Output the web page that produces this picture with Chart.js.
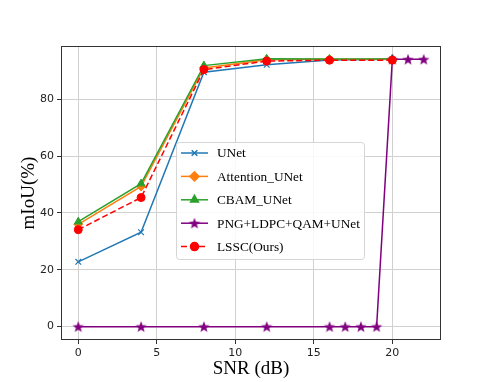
<!DOCTYPE html>
<html>
<head>
<meta charset="utf-8">
<script src="https://cdn.jsdelivr.net/npm/chart.js@4.4.1/dist/chart.umd.min.js"></script>
<style>
  body { margin: 0; background: #fff; }
  #wrap { width: 491px; height: 382px; }
</style>
</head>
<body>
<div id="wrap"><canvas id="snrChart" width="491" height="382"></canvas></div>
<script>
// SNR values (dB)
const snr = [0, 4, 8, 12, 16, 20];
const snrPng = [0, 4, 8, 12, 16, 17, 18, 19, 20, 21, 22];

// mIoU (%) per model
const unet = [22.8, 33.2, 89.5, 92.1, 93.8, 94.0];
const attentionUnet = [36.0, 49.3, 91.0, 93.9, 94.0, 94.0];
const cbamUnet = [36.9, 50.3, 91.8, 94.2, 94.1, 94.1];
const pngLdpc = [0, 0, 0, 0, 0, 0, 0, 0, 94.0, 94.0, 94.0];
const lssc = [34.1, 45.4, 90.4, 93.4, 93.7, 93.7];

const xTicks = [0, 5, 10, 15, 20];
const yTicks = [0, 20, 40, 60, 80];

const pairs = (xs, ys) => xs.map((x, i) => ({ x: x, y: ys[i] }));

// filled 5-point star for the purple series
function makeStar(color, r) {
    const c = document.createElement('canvas');
    c.width = c.height = r * 2 + 2;
    const g = c.getContext('2d');
    g.fillStyle = color;
    g.beginPath();
    for (let i = 0; i < 10; i++) {
        const rad = i % 2 === 0 ? r : r * 0.42;
        const a = -Math.PI / 2 + i * Math.PI / 5;
        const px = r + 1 + rad * Math.cos(a);
        const py = r + 1.5 + rad * Math.sin(a);
        if (i === 0) g.moveTo(px, py); else g.lineTo(px, py);
    }
    g.closePath();
    g.fill();
    return c;
}
const star = makeStar('#800080', 6);

const serif = "'Liberation Serif', 'Times New Roman', serif";

// frame, axis titles and legend box (matplotlib look)
const decorPlugin = {
    id: 'decor',
    afterDatasetsDraw(chart) {
        const { ctx, chartArea: a } = chart;
        ctx.save();
        ctx.strokeStyle = '#333';
        ctx.lineWidth = 1;
        ctx.strokeRect(a.left + 0.5, a.top + 0.5, a.right - a.left - 1, a.bottom - a.top - 1);

        ctx.fillStyle = '#000';
        ctx.font = '19px ' + serif;
        ctx.textAlign = 'center';
        ctx.textBaseline = 'middle';
        ctx.fillText('SNR (dB)', (a.left + a.right) / 2, 369);
        ctx.translate(29, (a.top + a.bottom) / 2);
        ctx.rotate(-Math.PI / 2);
        ctx.fillText('mIoU(%)', 0, 0);
        ctx.restore();

        // legend
        ctx.save();
        const bx = 176, by = 142, bw = 188, bh = 117;
        ctx.fillStyle = 'rgba(255,255,255,0.85)';
        ctx.strokeStyle = '#d5d5d5';
        ctx.lineWidth = 1;
        ctx.beginPath();
        ctx.roundRect(bx + 0.5, by + 0.5, bw, bh, 3);
        ctx.fill();
        ctx.stroke();
        chart.data.datasets.forEach((ds, i) => {
            const y = 153 + i * 23.4;
            ctx.strokeStyle = ds.borderColor;
            ctx.lineWidth = ds.borderWidth;
            ctx.setLineDash(ds.borderDash || []);
            ctx.beginPath();
            ctx.moveTo(181, y);
            ctx.lineTo(208, y);
            ctx.stroke();
            ctx.setLineDash([]);
            ctx.fillStyle = ds.pointBackgroundColor;
            ctx.strokeStyle = ds.pointBorderColor;
            ctx.lineWidth = 1.5;
            Chart.helpers.drawPoint(ctx, {
                pointStyle: ds.pointStyle,
                radius: ds.pointRadius,
                rotation: 0,
                borderWidth: 1.5
            }, 194.5, y);
            ctx.fillStyle = '#000';
            ctx.font = '13.3px ' + serif;
            ctx.textAlign = 'left';
            ctx.textBaseline = 'middle';
            ctx.fillText(ds.label, 217, y + 1);
        });
        ctx.restore();
    }
};

const ctx = document.getElementById('snrChart').getContext('2d');
const snrChart = new Chart(ctx, {
    type: 'line',
    data: {
        datasets: [{
            label: 'UNet',
            data: pairs(snr, unet),
            borderColor: '#1f77b4',
            pointBackgroundColor: '#1f77b4',
            pointBorderColor: '#1f77b4',
            pointStyle: 'crossRot',
            pointRadius: 4,
            pointBorderWidth: 1.2,
            borderWidth: 1.5,
            order: 4
        }, {
            label: 'Attention_UNet',
            data: pairs(snr, attentionUnet),
            borderColor: '#ff7f0e',
            pointBackgroundColor: '#ff7f0e',
            pointBorderColor: '#ff7f0e',
            pointStyle: 'rectRot',
            pointRadius: 4.5,
            pointBorderWidth: 1,
            borderWidth: 1.5,
            order: 3
        }, {
            label: 'CBAM_UNet',
            data: pairs(snr, cbamUnet),
            borderColor: '#2ca02c',
            pointBackgroundColor: '#2ca02c',
            pointBorderColor: '#2ca02c',
            pointStyle: 'triangle',
            pointRadius: 4.5,
            pointBorderWidth: 1,
            borderWidth: 1.5,
            order: 2
        }, {
            label: 'PNG+LDPC+QAM+UNet',
            data: pairs(snrPng, pngLdpc),
            borderColor: '#800080',
            pointBackgroundColor: '#800080',
            pointBorderColor: '#800080',
            pointStyle: star,
            pointRadius: 6,
            borderWidth: 1.5,
            order: 1
        }, {
            label: 'LSSC(Ours)',
            data: pairs(snr, lssc),
            borderColor: '#ff0000',
            borderDash: [6, 3],
            pointBackgroundColor: '#ff0000',
            pointBorderColor: '#ff0000',
            pointStyle: 'circle',
            pointRadius: 4,
            pointBorderWidth: 1,
            borderWidth: 1.5,
            order: 0
        }]
    },
    options: {
        responsive: false,
        animation: false,
        devicePixelRatio: 1,
        layout: { padding: { top: 46, right: 50, left: 0, bottom: 0 } },
        elements: { line: { tension: 0 } },
        scales: {
            x: {
                type: 'linear',
                min: -1.1,
                max: 23.1,
                afterBuildTicks: (s) => { s.ticks = xTicks.map(v => ({ value: v })); },
                afterFit: (s) => { s.height = 42; },
                grid: { color: '#d0d0d0', tickColor: '#333', tickLength: 4, lineWidth: 1 },
                border: { display: false },
                ticks: {
                    padding: 3,
                    maxRotation: 0,
                    color: '#222',
                    font: { family: "'DejaVu Sans'", size: 11 }
                }
            },
            y: {
                min: -4.7,
                max: 98.7,
                afterBuildTicks: (s) => { s.ticks = yTicks.map(v => ({ value: v })); },
                afterFit: (s) => { s.width = 61; },
                grid: { color: '#d0d0d0', tickColor: '#333', tickLength: 4, lineWidth: 1 },
                border: { display: false },
                ticks: {
                    padding: 3,
                    color: '#222',
                    font: { family: "'DejaVu Sans'", size: 11 }
                }
            }
        },
        plugins: {
            legend: { display: false },
            tooltip: { enabled: false }
        }
    },
    plugins: [decorPlugin]
});
</script>
</body>
</html>
